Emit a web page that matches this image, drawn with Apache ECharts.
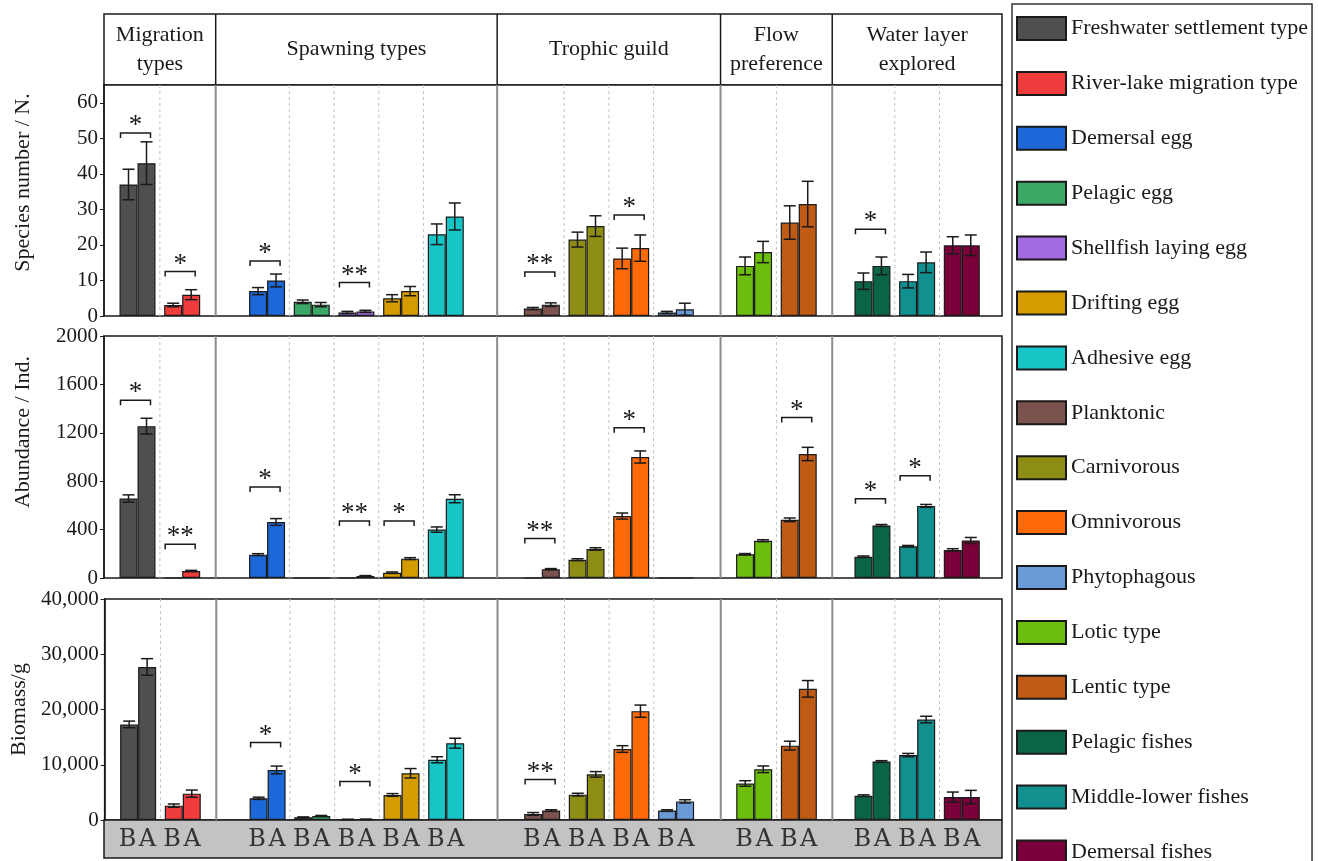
<!DOCTYPE html>
<html>
<head>
<meta charset="utf-8">
<title>Fish functional groups, B / A</title>
<script src="https://cdn.jsdelivr.net/npm/echarts@6/dist/echarts.min.js"></script>
<style>
  html, body { margin: 0; padding: 0; background: #fff; }
  #chart { width: 1318px; height: 861px; }
</style>
</head>
<body>
<div id="chart"></div>
<script>
// header groups and how many categories each one holds
var groupNames = ['Migration\ntypes', 'Spawning types', 'Trophic guild', 'Flow\npreference', 'Water layer\nexplored'];
var groupSizes = [2, 5, 4, 2, 3];

var categories = ['Freshwater settlement type', 'River-lake migration type', 'Demersal egg', 'Pelagic egg',
    'Shellfish laying egg', 'Drifting egg', 'Adhesive egg', 'Planktonic', 'Carnivorous', 'Omnivorous',
    'Phytophagous', 'Lotic type', 'Lentic type', 'Pelagic fishes', 'Middle-lower fishes', 'Demersal fishes'];

var periods = ['B', 'A'];

// species number
var speciesB    = [37, 3.1, 7, 4, 1, 5, 23, 2.1, 21.5, 16.2, 1, 14.1, 26.3, 9.8, 9.8, 19.9];
var speciesBErr = [4.3, 0.5, 1, 0.5, 0.3, 1, 2.9, 0.3, 2.1, 2.9, 0.3, 2.5, 4.7, 2.3, 1.9, 2.4];
var speciesA    = [43, 6, 10, 3.2, 1.3, 7, 28, 3.2, 25.3, 19.1, 1.9, 18, 31.5, 14.1, 15.1, 19.9];
var speciesAErr = [6, 1.4, 1.8, 0.6, 0.3, 1.3, 3.8, 0.5, 2.9, 3.7, 1.7, 3, 6.4, 2.5, 2.9, 2.9];
var speciesSig  = ['*', '*', '*', '', '**', '', '', '**', '', '*', '', '', '', '*', '', ''];
var speciesSigY = [51.5, 12.5, 15.5, null, 9.4, null, null, 12.4, null, 28.4, null, null, null, 24.4, null, null];

// abundance
var abundB    = [657, 0, 193, 0, 0, 44, 400, 0, 151, 512, 0, 196, 481, 176, 263, 232];
var abundBErr = [30, 0, 8, 0, 0, 6, 22, 0, 8, 25, 0, 6, 15, 6, 6, 10];
var abundA    = [1255, 58, 463, 0, 17, 160, 655, 73, 240, 1000, 0, 308, 1025, 434, 596, 310];
var abundAErr = [65, 5, 28, 0, 3, 8, 33, 5, 10, 50, 0, 8, 55, 8, 12, 25];
var abundSig  = ['*', '**', '*', '', '**', '*', '', '**', '', '*', '', '', '*', '*', '*', ''];
var abundSigY = [1470, 279, 753, null, 472, 472, null, 327, null, 1242, null, null, 1326, 654, 845, null];

// biomass
var bioB    = [17300, 2600, 3930, 480, 100, 4530, 10900, 1100, 4590, 12850, 1710, 6610, 13460, 4400, 11750, 4160];
var bioBErr = [600, 300, 200, 80, 30, 250, 550, 250, 250, 600, 150, 500, 800, 150, 300, 900];
var bioA    = [27700, 4770, 9060, 725, 120, 8460, 13900, 1710, 8260, 19700, 3370, 9180, 23740, 10590, 18180, 4160];
var bioAErr = [1500, 650, 700, 100, 30, 850, 900, 150, 500, 1100, 300, 600, 1500, 150, 600, 1200];
var bioSig  = ['', '', '*', '', '*', '', '', '**', '', '', '', '', '', '', '', ''];
var bioSigY = [null, null, 14020, null, 6950, null, null, 7340, null, null, null, null, null, null, null, null];

var colors = ['#4f4f4f', '#ef3d3d', '#1d68d8', '#3ba866', '#a36ae2', '#d49c00', '#17c4c6', '#7b524e',
    '#8e8e14', '#ff6a08', '#6a9bd8', '#6cbd0c', '#bf5b14', '#0b6444', '#11908f', '#7a003a'];

// layout: empty room (in slots) at each side of a group
var groupPad = [0.75, 1.15, 1.0, 0.75, 0.9];

var catPos = [], groupEdges = [0], midLines = [];
var cursor = 0;
groupSizes.forEach(function (n, g) {
    cursor += groupPad[g];
    for (var i = 0; i < n; i++) {
        catPos.push(cursor + i);
        if (i < n - 1) midLines.push(cursor + i + 0.5);
    }
    cursor += n - 1 + groupPad[g];
    groupEdges.push(cursor);
});
var xMax = cursor;

var ink = '#1a1a1a';
var serif = 'Liberation Serif';
var GL = 104, GR = 316;

var grids = [
    {left: GL, right: GR, top: 14, height: 71},    // header
    {left: GL, right: GR, top: 85, height: 231},   // species
    {left: GL, right: GR, top: 336, height: 242},  // abundance
    {left: GL, right: GR, top: 599, height: 221},  // biomass
    {left: GL, right: GR, top: 820, height: 38}    // B / A strip
];
grids.forEach(function (g, i) {
    g.show = true;
    g.borderColor = ink;
    g.borderWidth = 1.5;
    g.backgroundColor = i === 4 ? '#c3c3c3' : '#fff';
});

var xAxes = grids.map(function (g, i) {
    return {type: 'value', gridIndex: i, min: 0, max: xMax, show: false};
});

function hiddenY(gi) {
    return {type: 'value', gridIndex: gi, min: 0, max: 1, show: false};
}

function panelY(gi, max, interval, name, shift, fmt) {
    var ticks = [];
    for (var v = 0; v <= max; v += interval) ticks.push(v);
    return {
        type: 'value', gridIndex: gi, min: 0, max: max, interval: interval,
        name: name, nameLocation: 'middle', nameGap: 70,
        nameTextStyle: {fontFamily: serif, fontSize: 22, color: ink, padding: [0, 0, 0, shift]},
        axisLine: {show: true, lineStyle: {color: ink, width: 1.5}},
        axisTick: {show: true, length: 4, customValues: ticks, lineStyle: {color: ink}},
        axisLabel: {fontFamily: serif, fontSize: 21, color: ink, margin: 6, formatter: fmt},
        splitLine: {show: false}
    };
}

var yAxes = [
    hiddenY(0),
    panelY(1, 65, 10, 'Species number / N.', 36, function (v) { return v % 10 === 0 ? String(v) : ''; }),
    panelY(2, 2000, 400, 'Abundance / Ind.', 50, function (v) { return String(v); }),
    panelY(3, 40000, 10000, 'Biomass/g', 0, function (v) { return v.toLocaleString('en-US'); }),
    hiddenY(4)
];

// group separators (solid) and dotted lines between categories
var guides = groupEdges.slice(1, -1).map(function (x) { return [x, 1]; })
    .concat(midLines.map(function (x) { return [x, 0]; }));

function guideSeries(gi) {
    return {
        type: 'custom', xAxisIndex: gi, yAxisIndex: gi, z: 1, silent: true,
        encode: {x: 0},
        data: guides,
        renderItem: function (params, api) {
            var cs = params.coordSys;
            var px = api.coord([api.value(0), 0])[0];
            var solid = api.value(1) === 1;
            return {type: 'line', shape: {x1: px, y1: cs.y, x2: px, y2: cs.y + cs.height},
                style: solid ? {stroke: '#8c8c8c', lineWidth: 2}
                             : {stroke: '#c4c4c4', lineWidth: 1, lineDash: [3, 3]}};
        }
    };
}

function barSeries(gi, name, vals) {
    return {
        type: 'bar', name: name, xAxisIndex: gi, yAxisIndex: gi,
        barWidth: 18, barGap: '0%', z: 2,
        data: vals.map(function (v, i) {
            return {value: [catPos[i], v], itemStyle: {color: colors[i], borderColor: ink, borderWidth: 1.2}};
        })
    };
}

function errSeries(gi, bVal, bErr, aVal, aErr) {
    var data = [];
    catPos.forEach(function (x, i) {
        data.push([x, bVal[i], bErr[i], -1]);
        data.push([x, aVal[i], aErr[i], 1]);
    });
    return {
        type: 'custom', xAxisIndex: gi, yAxisIndex: gi, z: 4, silent: true,
        encode: {x: 0, y: 1},
        data: data,
        renderItem: function (params, api) {
            var x = api.value(0), v = api.value(1), e = api.value(2), side = api.value(3);
            if (!e) return;
            var top = api.coord([x, v + e]);
            var bot = api.coord([x, Math.max(v - e, 0)]);
            var cx = top[0] + side * 9;
            var st = {stroke: ink, lineWidth: 1.5};
            return {type: 'group', children: [
                {type: 'line', shape: {x1: cx, y1: top[1], x2: cx, y2: bot[1]}, style: st},
                {type: 'line', shape: {x1: cx - 6, y1: top[1], x2: cx + 6, y2: top[1]}, style: st},
                {type: 'line', shape: {x1: cx - 6, y1: bot[1], x2: cx + 6, y2: bot[1]}, style: st}
            ]};
        }
    };
}

function sigSeries(gi, marks, heights) {
    var items = [];
    marks.forEach(function (m, i) {
        if (m) items.push({x: catPos[i], y: heights[i], text: m});
    });
    return {
        type: 'custom', xAxisIndex: gi, yAxisIndex: gi, z: 4, silent: true,
        encode: {x: 0, y: 1},
        data: items.map(function (d) { return [d.x, d.y]; }),
        renderItem: function (params, api) {
            var p = api.coord([api.value(0), api.value(1)]);
            var x1 = p[0] - 17, x2 = p[0] + 13, y = p[1];
            return {type: 'group', children: [
                {type: 'polyline', shape: {points: [[x1, y + 5], [x1, y], [x2, y], [x2, y + 5]]},
                    style: {stroke: ink, lineWidth: 1.5, fill: null}},
                {type: 'text', x: (x1 + x2) / 2, y: y - 7,
                    style: {text: items[params.dataIndex].text, fill: ink, fontFamily: serif, fontSize: 27,
                        align: 'center', verticalAlign: 'middle'}}
            ]};
        }
    };
}

var headerSeries = {
    type: 'custom', xAxisIndex: 0, yAxisIndex: 0, z: 4, silent: true,
    encode: {x: 0, y: 1},
    data: groupNames.map(function (n, g) { return [groupEdges[g], groupEdges[g + 1]]; }),
    renderItem: function (params, api) {
        var a = api.coord([api.value(0), 1]);
        var b = api.coord([api.value(1), 0]);
        var kids = [{type: 'text', x: (a[0] + b[0]) / 2, y: (a[1] + b[1]) / 2,
            style: {text: groupNames[params.dataIndex], fill: ink, fontFamily: serif, fontSize: 22,
                lineHeight: 29, align: 'center', verticalAlign: 'middle'}}];
        if (params.dataIndex < groupNames.length - 1) {
            kids.push({type: 'line', shape: {x1: b[0], y1: a[1], x2: b[0], y2: b[1]},
                style: {stroke: ink, lineWidth: 1.5}});
        }
        return {type: 'group', children: kids};
    }
};

var stripSeries = {
    type: 'custom', xAxisIndex: 4, yAxisIndex: 4, z: 4, silent: true,
    encode: {x: 0, y: 1},
    data: catPos.map(function (x) { return [x, 0.5]; }),
    renderItem: function (params, api) {
        var p = api.coord([api.value(0), api.value(1)]);
        return {type: 'group', children: periods.map(function (t, k) {
            return {type: 'text', x: p[0] + (k === 0 ? -10 : 10), y: p[1] + 1,
                style: {text: t, fill: '#333', fontFamily: 'DejaVu Serif', fontSize: 24,
                    align: 'center', verticalAlign: 'middle'}};
        })};
    }
};

// series that exist only to feed the legend
var legendSeries = categories.map(function (c, i) {
    return {type: 'bar', name: c, xAxisIndex: 0, yAxisIndex: 0, data: [],
        itemStyle: {color: colors[i], borderColor: ink, borderWidth: 1.5}};
});

var series = [
    guideSeries(1), barSeries(1, 'B', speciesB), barSeries(1, 'A', speciesA),
    errSeries(1, speciesB, speciesBErr, speciesA, speciesAErr), sigSeries(1, speciesSig, speciesSigY),
    guideSeries(2), barSeries(2, 'B', abundB), barSeries(2, 'A', abundA),
    errSeries(2, abundB, abundBErr, abundA, abundAErr), sigSeries(2, abundSig, abundSigY),
    guideSeries(3), barSeries(3, 'B', bioB), barSeries(3, 'A', bioA),
    errSeries(3, bioB, bioBErr, bioA, bioAErr), sigSeries(3, bioSig, bioSigY),
    headerSeries, stripSeries
].concat(legendSeries);

var chart = echarts.init(document.getElementById('chart'));
chart.setOption({
    animation: false,
    backgroundColor: '#fff',
    grid: grids,
    xAxis: xAxes,
    yAxis: yAxes,
    legend: {
        orient: 'vertical', left: 1012, top: 4, height: 900,
        padding: [12, 4, 40, 4],
        itemWidth: 49, itemHeight: 23, itemGap: 29.9,
        icon: 'rect', selectedMode: false,
        borderColor: '#333', borderWidth: 1.5,
        textStyle: {fontFamily: serif, fontSize: 22, lineHeight: 23, color: ink},
        data: categories
    },
    series: series
});
</script>
</body>
</html>
